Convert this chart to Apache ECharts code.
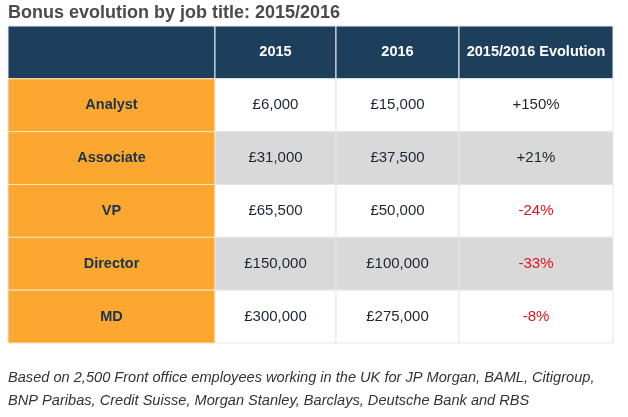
<!DOCTYPE html>
<html>
<head>
<meta charset="utf-8">
<script src="https://cdn.jsdelivr.net/npm/echarts@6/dist/echarts.min.js"></script>
<style>html,body{margin:0;padding:0;background:#fff}#c{width:628px;height:417px}</style>
</head>
<body>
<div id="c"></div>
<script>
// ---- data ----
const jobTitles = ['Analyst', 'Associate', 'VP', 'Director', 'MD'];
const bonus2015 = [6000, 31000, 65500, 150000, 300000];
const bonus2016 = [15000, 37500, 50000, 100000, 275000];
const evolutionPct = [150, 21, -24, -33, -8];
const headerLabels = ['', '2015', '2016', '2015/2016 Evolution'];
const titleText = 'Bonus evolution by job title: 2015/2016';
const footnoteLines = [
  'Based on 2,500 Front office employees working in the UK for JP Morgan, BAML, Citigroup,',
  'BNP Paribas, Credit Suisse, Morgan Stanley, Barclays, Deutsche Bank and RBS'
];

// ---- layout (column widths in px units on the value axis) ----
const colEdges = [0, 207, 328, 451, 605];

const fmtMoney = v => '£' + v.toLocaleString('en-GB');
const fmtPct = v => (v > 0 ? '+' : '') + v + '%';

const rowNames = ['header'].concat(jobTitles);
const cells = [];
for (let r = 0; r < rowNames.length; r++) {
  for (let c = 0; c < 4; c++) {
    let text;
    if (r === 0) text = headerLabels[c];
    else if (c === 0) text = jobTitles[r - 1];
    else if (c === 1) text = fmtMoney(bonus2015[r - 1]);
    else if (c === 2) text = fmtMoney(bonus2016[r - 1]);
    else text = fmtPct(evolutionPct[r - 1]);
    cells.push({ value: [c, r], text: text });
  }
}

const chart = echarts.init(document.getElementById('c'), null, { renderer: 'canvas' });
chart.setOption({
  backgroundColor: '#ffffff',
  animation: false,
  title: {
    text: titleText, left: 8, top: 4, padding: 0,
    textStyle: { fontFamily: 'Liberation Sans, Arial, sans-serif', fontSize: 18, fontWeight: 'bold', color: '#4e4a48' }
  },
  grid: { left: 8, right: 15, top: 26, bottom: 74 },
  xAxis: { type: 'value', min: colEdges[0], max: colEdges[colEdges.length - 1], show: false },
  yAxis: { type: 'category', data: rowNames, inverse: true, show: false },
  series: [{
    type: 'custom',
    coordinateSystem: 'cartesian2d',
    data: cells,
    encode: { x: 0, y: 1 },
    renderItem: function (params, api) {
      const c = api.value(0), r = api.value(1);
      const item = cells[params.dataIndex];
      const p0 = api.coord([colEdges[c], r]);
      const p1 = api.coord([colEdges[c + 1], r]);
      const h = api.size([0, 1])[1];
      const x = p0[0], y = p0[1] - h / 2, w = p1[0] - p0[0];
      let fill, stroke, color, weight, size = 15;
      if (r === 0) { fill = '#1d3f5c'; stroke = '#e8edf2'; color = '#ffffff'; weight = 'bold'; size = 14.5; }
      else if (c === 0) { fill = '#fca72f'; stroke = '#fde3b8'; color = '#1a3350'; weight = 'bold'; size = 14.5; }
      else {
        fill = (r % 2 === 0) ? '#d9d9d9' : '#ffffff';
        stroke = '#e6e6e6';
        weight = 'normal';
        color = '#1c2433';
        if (c === 3) color = evolutionPct[r - 1] < 0 ? '#e2141c' : '#1a2a1a';
      }
      return {
        type: 'group',
        children: [{
          type: 'rect',
          shape: { x: x, y: y, width: w, height: h },
          style: { fill: fill, stroke: stroke, lineWidth: 1 }
        }, {
          type: 'text',
          style: {
            text: item.text, x: x + w / 2, y: y + h / 2,
            align: 'center', verticalAlign: 'middle',
            fill: color, fontSize: size, fontWeight: weight,
            fontFamily: 'Liberation Sans, Arial, sans-serif'
          }
        }]
      };
    }
  }],
  graphic: [{
    type: 'text', left: 8, top: 366,
    style: {
      text: footnoteLines.join('\n'), lineHeight: 23,
      fill: '#333333', fontSize: 14.6, fontStyle: 'italic',
      fontFamily: 'Liberation Sans, Arial, sans-serif'
    }
  }]
});
</script>
</body>
</html>
